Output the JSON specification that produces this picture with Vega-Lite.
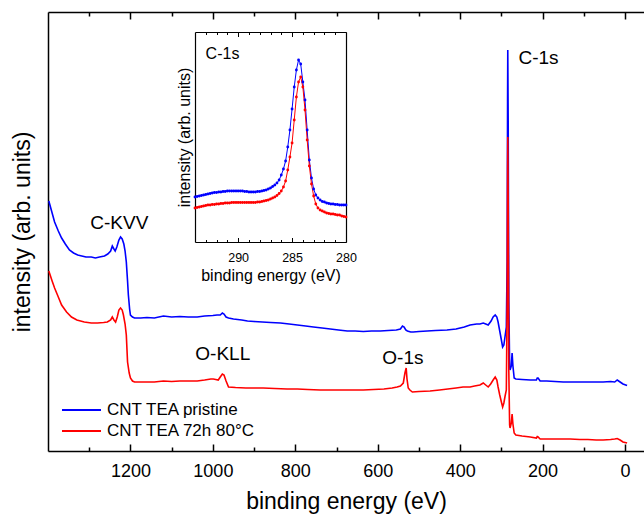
{
  "$schema": "https://vega.github.io/schema/vega-lite/v6.json",
  "width": 596,
  "height": 439,
  "autosize": "none",
  "padding": {"left": 48, "top": 12, "right": 0, "bottom": 64},
  "datasets": {
    "main": [
      {"series":"CNT TEA pristine","eV":1398,"I":250},{"series":"CNT TEA pristine","eV":1390,"I":238},{"series":"CNT TEA pristine","eV":1384,"I":229},{"series":"CNT TEA pristine","eV":1375,"I":220},{"series":"CNT TEA pristine","eV":1367,"I":213},{"series":"CNT TEA pristine","eV":1358,"I":207},{"series":"CNT TEA pristine","eV":1348,"I":201},{"series":"CNT TEA pristine","eV":1338,"I":198},{"series":"CNT TEA pristine","eV":1328,"I":196},{"series":"CNT TEA pristine","eV":1318,"I":195},{"series":"CNT TEA pristine","eV":1308,"I":194},{"series":"CNT TEA pristine","eV":1295,"I":194},{"series":"CNT TEA pristine","eV":1285,"I":193},{"series":"CNT TEA pristine","eV":1275,"I":194},{"series":"CNT TEA pristine","eV":1263,"I":195},{"series":"CNT TEA pristine","eV":1255,"I":197},{"series":"CNT TEA pristine","eV":1248,"I":200},{"series":"CNT TEA pristine","eV":1244,"I":205},{"series":"CNT TEA pristine","eV":1240,"I":202},{"series":"CNT TEA pristine","eV":1237,"I":200},{"series":"CNT TEA pristine","eV":1233,"I":204},{"series":"CNT TEA pristine","eV":1228,"I":211},{"series":"CNT TEA pristine","eV":1224,"I":214},{"series":"CNT TEA pristine","eV":1220,"I":212},{"series":"CNT TEA pristine","eV":1216,"I":207},{"series":"CNT TEA pristine","eV":1213,"I":200},{"series":"CNT TEA pristine","eV":1210,"I":189},{"series":"CNT TEA pristine","eV":1207,"I":170},{"series":"CNT TEA pristine","eV":1205,"I":156},{"series":"CNT TEA pristine","eV":1202,"I":142},{"series":"CNT TEA pristine","eV":1200,"I":136},{"series":"CNT TEA pristine","eV":1195,"I":134},{"series":"CNT TEA pristine","eV":1190,"I":133},{"series":"CNT TEA pristine","eV":1175,"I":133},{"series":"CNT TEA pristine","eV":1160,"I":133.5},{"series":"CNT TEA pristine","eV":1142,"I":133},{"series":"CNT TEA pristine","eV":1120,"I":135},{"series":"CNT TEA pristine","eV":1100,"I":134},{"series":"CNT TEA pristine","eV":1080,"I":134.5},{"series":"CNT TEA pristine","eV":1060,"I":134},{"series":"CNT TEA pristine","eV":1038,"I":134},{"series":"CNT TEA pristine","eV":1020,"I":135},{"series":"CNT TEA pristine","eV":1000,"I":135.5},{"series":"CNT TEA pristine","eV":990,"I":136},{"series":"CNT TEA pristine","eV":982,"I":136},{"series":"CNT TEA pristine","eV":977,"I":138},{"series":"CNT TEA pristine","eV":973,"I":137},{"series":"CNT TEA pristine","eV":968,"I":134},{"series":"CNT TEA pristine","eV":962,"I":133},{"series":"CNT TEA pristine","eV":950,"I":132},{"series":"CNT TEA pristine","eV":930,"I":131},{"series":"CNT TEA pristine","eV":916,"I":130},{"series":"CNT TEA pristine","eV":900,"I":129.5},{"series":"CNT TEA pristine","eV":880,"I":129},{"series":"CNT TEA pristine","eV":860,"I":128.5},{"series":"CNT TEA pristine","eV":836,"I":128},{"series":"CNT TEA pristine","eV":815,"I":127},{"series":"CNT TEA pristine","eV":795,"I":126},{"series":"CNT TEA pristine","eV":775,"I":125},{"series":"CNT TEA pristine","eV":756,"I":124},{"series":"CNT TEA pristine","eV":735,"I":123},{"series":"CNT TEA pristine","eV":715,"I":122},{"series":"CNT TEA pristine","eV":695,"I":121},{"series":"CNT TEA pristine","eV":674,"I":120},{"series":"CNT TEA pristine","eV":655,"I":120},{"series":"CNT TEA pristine","eV":635,"I":119.5},{"series":"CNT TEA pristine","eV":615,"I":120},{"series":"CNT TEA pristine","eV":594,"I":120},{"series":"CNT TEA pristine","eV":575,"I":120.5},{"series":"CNT TEA pristine","eV":555,"I":121},{"series":"CNT TEA pristine","eV":545,"I":122},{"series":"CNT TEA pristine","eV":540,"I":125},{"series":"CNT TEA pristine","eV":536,"I":124},{"series":"CNT TEA pristine","eV":532,"I":121},{"series":"CNT TEA pristine","eV":528,"I":120},{"series":"CNT TEA pristine","eV":520,"I":119},{"series":"CNT TEA pristine","eV":514,"I":119},{"series":"CNT TEA pristine","eV":500,"I":119.5},{"series":"CNT TEA pristine","eV":480,"I":120},{"series":"CNT TEA pristine","eV":460,"I":120.5},{"series":"CNT TEA pristine","eV":432,"I":121},{"series":"CNT TEA pristine","eV":410,"I":122},{"series":"CNT TEA pristine","eV":390,"I":124},{"series":"CNT TEA pristine","eV":376,"I":126},{"series":"CNT TEA pristine","eV":360,"I":127},{"series":"CNT TEA pristine","eV":352,"I":127},{"series":"CNT TEA pristine","eV":344,"I":128},{"series":"CNT TEA pristine","eV":338,"I":127},{"series":"CNT TEA pristine","eV":332,"I":126},{"series":"CNT TEA pristine","eV":325,"I":130},{"series":"CNT TEA pristine","eV":320,"I":134},{"series":"CNT TEA pristine","eV":315,"I":136},{"series":"CNT TEA pristine","eV":311,"I":134},{"series":"CNT TEA pristine","eV":308,"I":129},{"series":"CNT TEA pristine","eV":304,"I":120},{"series":"CNT TEA pristine","eV":300,"I":111},{"series":"CNT TEA pristine","eV":297,"I":104},{"series":"CNT TEA pristine","eV":294,"I":106},{"series":"CNT TEA pristine","eV":291,"I":115},{"series":"CNT TEA pristine","eV":288,"I":124},{"series":"CNT TEA pristine","eV":286,"I":190},{"series":"CNT TEA pristine","eV":285,"I":350},{"series":"CNT TEA pristine","eV":284.5,"I":401},{"series":"CNT TEA pristine","eV":283.5,"I":330},{"series":"CNT TEA pristine","eV":282,"I":150},{"series":"CNT TEA pristine","eV":280,"I":85},{"series":"CNT TEA pristine","eV":279,"I":81},{"series":"CNT TEA pristine","eV":276,"I":85},{"series":"CNT TEA pristine","eV":274,"I":98},{"series":"CNT TEA pristine","eV":272,"I":85},{"series":"CNT TEA pristine","eV":269,"I":73},{"series":"CNT TEA pristine","eV":265,"I":72},{"series":"CNT TEA pristine","eV":250,"I":71.5},{"series":"CNT TEA pristine","eV":230,"I":71},{"series":"CNT TEA pristine","eV":215,"I":71},{"series":"CNT TEA pristine","eV":213,"I":73},{"series":"CNT TEA pristine","eV":211,"I":73},{"series":"CNT TEA pristine","eV":206,"I":70},{"series":"CNT TEA pristine","eV":190,"I":70},{"series":"CNT TEA pristine","eV":170,"I":69.5},{"series":"CNT TEA pristine","eV":150,"I":69},{"series":"CNT TEA pristine","eV":133,"I":69},{"series":"CNT TEA pristine","eV":110,"I":69},{"series":"CNT TEA pristine","eV":90,"I":69},{"series":"CNT TEA pristine","eV":70,"I":69},{"series":"CNT TEA pristine","eV":53,"I":69},{"series":"CNT TEA pristine","eV":35,"I":69.5},{"series":"CNT TEA pristine","eV":25,"I":69},{"series":"CNT TEA pristine","eV":19,"I":71},{"series":"CNT TEA pristine","eV":12,"I":69},{"series":"CNT TEA pristine","eV":5,"I":67},{"series":"CNT TEA pristine","eV":-5,"I":65.5},
      {"series":"CNT TEA 72h 80°C","eV":1398,"I":180},{"series":"CNT TEA 72h 80°C","eV":1390,"I":170},{"series":"CNT TEA 72h 80°C","eV":1384,"I":163},{"series":"CNT TEA 72h 80°C","eV":1375,"I":154},{"series":"CNT TEA 72h 80°C","eV":1367,"I":146},{"series":"CNT TEA 72h 80°C","eV":1355,"I":139},{"series":"CNT TEA 72h 80°C","eV":1343,"I":134},{"series":"CNT TEA 72h 80°C","eV":1330,"I":131},{"series":"CNT TEA 72h 80°C","eV":1312,"I":129},{"series":"CNT TEA 72h 80°C","eV":1295,"I":128},{"series":"CNT TEA 72h 80°C","eV":1280,"I":128},{"series":"CNT TEA 72h 80°C","eV":1265,"I":128.5},{"series":"CNT TEA 72h 80°C","eV":1256,"I":129},{"series":"CNT TEA 72h 80°C","eV":1248,"I":131},{"series":"CNT TEA 72h 80°C","eV":1244,"I":134},{"series":"CNT TEA 72h 80°C","eV":1240,"I":131},{"series":"CNT TEA 72h 80°C","eV":1236,"I":129},{"series":"CNT TEA 72h 80°C","eV":1232,"I":134},{"series":"CNT TEA 72h 80°C","eV":1228,"I":141},{"series":"CNT TEA 72h 80°C","eV":1224,"I":143},{"series":"CNT TEA 72h 80°C","eV":1220,"I":141},{"series":"CNT TEA 72h 80°C","eV":1217,"I":136},{"series":"CNT TEA 72h 80°C","eV":1213,"I":127},{"series":"CNT TEA 72h 80°C","eV":1210,"I":116},{"series":"CNT TEA 72h 80°C","eV":1207,"I":89},{"series":"CNT TEA 72h 80°C","eV":1203,"I":78},{"series":"CNT TEA 72h 80°C","eV":1200,"I":73},{"series":"CNT TEA 72h 80°C","eV":1195,"I":70},{"series":"CNT TEA 72h 80°C","eV":1190,"I":69},{"series":"CNT TEA 72h 80°C","eV":1170,"I":69},{"series":"CNT TEA 72h 80°C","eV":1142,"I":69},{"series":"CNT TEA 72h 80°C","eV":1120,"I":70},{"series":"CNT TEA 72h 80°C","eV":1100,"I":69.5},{"series":"CNT TEA 72h 80°C","eV":1080,"I":70},{"series":"CNT TEA 72h 80°C","eV":1060,"I":70},{"series":"CNT TEA 72h 80°C","eV":1038,"I":70},{"series":"CNT TEA 72h 80°C","eV":1020,"I":71},{"series":"CNT TEA 72h 80°C","eV":1005,"I":72},{"series":"CNT TEA 72h 80°C","eV":999,"I":72},{"series":"CNT TEA 72h 80°C","eV":993,"I":71.5},{"series":"CNT TEA 72h 80°C","eV":987,"I":71},{"series":"CNT TEA 72h 80°C","eV":982,"I":74},{"series":"CNT TEA 72h 80°C","eV":977,"I":77},{"series":"CNT TEA 72h 80°C","eV":973,"I":76},{"series":"CNT TEA 72h 80°C","eV":968,"I":70},{"series":"CNT TEA 72h 80°C","eV":962,"I":64},{"series":"CNT TEA 72h 80°C","eV":945,"I":63.5},{"series":"CNT TEA 72h 80°C","eV":920,"I":63},{"series":"CNT TEA 72h 80°C","eV":900,"I":63},{"series":"CNT TEA 72h 80°C","eV":878,"I":63},{"series":"CNT TEA 72h 80°C","eV":850,"I":62.5},{"series":"CNT TEA 72h 80°C","eV":820,"I":62},{"series":"CNT TEA 72h 80°C","eV":795,"I":62},{"series":"CNT TEA 72h 80°C","eV":770,"I":61.5},{"series":"CNT TEA 72h 80°C","eV":740,"I":61},{"series":"CNT TEA 72h 80°C","eV":715,"I":61},{"series":"CNT TEA 72h 80°C","eV":690,"I":61},{"series":"CNT TEA 72h 80°C","eV":660,"I":61},{"series":"CNT TEA 72h 80°C","eV":635,"I":61},{"series":"CNT TEA 72h 80°C","eV":610,"I":61.5},{"series":"CNT TEA 72h 80°C","eV":585,"I":62},{"series":"CNT TEA 72h 80°C","eV":565,"I":63},{"series":"CNT TEA 72h 80°C","eV":553,"I":64},{"series":"CNT TEA 72h 80°C","eV":545,"I":65},{"series":"CNT TEA 72h 80°C","eV":538,"I":68},{"series":"CNT TEA 72h 80°C","eV":534,"I":78},{"series":"CNT TEA 72h 80°C","eV":531,"I":83},{"series":"CNT TEA 72h 80°C","eV":529,"I":72},{"series":"CNT TEA 72h 80°C","eV":526,"I":63},{"series":"CNT TEA 72h 80°C","eV":522,"I":61},{"series":"CNT TEA 72h 80°C","eV":516,"I":59},{"series":"CNT TEA 72h 80°C","eV":500,"I":59.5},{"series":"CNT TEA 72h 80°C","eV":473,"I":60},{"series":"CNT TEA 72h 80°C","eV":450,"I":61},{"series":"CNT TEA 72h 80°C","eV":430,"I":62},{"series":"CNT TEA 72h 80°C","eV":410,"I":63},{"series":"CNT TEA 72h 80°C","eV":393,"I":64},{"series":"CNT TEA 72h 80°C","eV":376,"I":64},{"series":"CNT TEA 72h 80°C","eV":365,"I":65},{"series":"CNT TEA 72h 80°C","eV":352,"I":66},{"series":"CNT TEA 72h 80°C","eV":344,"I":68},{"series":"CNT TEA 72h 80°C","eV":338,"I":66},{"series":"CNT TEA 72h 80°C","eV":332,"I":64},{"series":"CNT TEA 72h 80°C","eV":326,"I":67},{"series":"CNT TEA 72h 80°C","eV":320,"I":71},{"series":"CNT TEA 72h 80°C","eV":315,"I":74},{"series":"CNT TEA 72h 80°C","eV":311,"I":71},{"series":"CNT TEA 72h 80°C","eV":308,"I":64},{"series":"CNT TEA 72h 80°C","eV":304,"I":56},{"series":"CNT TEA 72h 80°C","eV":300,"I":49},{"series":"CNT TEA 72h 80°C","eV":297,"I":44},{"series":"CNT TEA 72h 80°C","eV":294,"I":48},{"series":"CNT TEA 72h 80°C","eV":291,"I":55},{"series":"CNT TEA 72h 80°C","eV":288,"I":61},{"series":"CNT TEA 72h 80°C","eV":286,"I":150},{"series":"CNT TEA 72h 80°C","eV":285,"I":280},{"series":"CNT TEA 72h 80°C","eV":284.5,"I":314},{"series":"CNT TEA 72h 80°C","eV":283.5,"I":250},{"series":"CNT TEA 72h 80°C","eV":282,"I":80},{"series":"CNT TEA 72h 80°C","eV":280,"I":26},{"series":"CNT TEA 72h 80°C","eV":279,"I":23},{"series":"CNT TEA 72h 80°C","eV":276,"I":28},{"series":"CNT TEA 72h 80°C","eV":274,"I":37},{"series":"CNT TEA 72h 80°C","eV":272,"I":27},{"series":"CNT TEA 72h 80°C","eV":269,"I":18},{"series":"CNT TEA 72h 80°C","eV":265,"I":16},{"series":"CNT TEA 72h 80°C","eV":250,"I":15},{"series":"CNT TEA 72h 80°C","eV":230,"I":14},{"series":"CNT TEA 72h 80°C","eV":215,"I":13},{"series":"CNT TEA 72h 80°C","eV":213,"I":14.5},{"series":"CNT TEA 72h 80°C","eV":211,"I":14},{"series":"CNT TEA 72h 80°C","eV":206,"I":12},{"series":"CNT TEA 72h 80°C","eV":190,"I":12},{"series":"CNT TEA 72h 80°C","eV":170,"I":12},{"series":"CNT TEA 72h 80°C","eV":150,"I":12},{"series":"CNT TEA 72h 80°C","eV":133,"I":12},{"series":"CNT TEA 72h 80°C","eV":110,"I":11.5},{"series":"CNT TEA 72h 80°C","eV":90,"I":11.5},{"series":"CNT TEA 72h 80°C","eV":70,"I":11},{"series":"CNT TEA 72h 80°C","eV":53,"I":11},{"series":"CNT TEA 72h 80°C","eV":35,"I":11.5},{"series":"CNT TEA 72h 80°C","eV":25,"I":12},{"series":"CNT TEA 72h 80°C","eV":19,"I":12.5},{"series":"CNT TEA 72h 80°C","eV":12,"I":11},{"series":"CNT TEA 72h 80°C","eV":5,"I":9},{"series":"CNT TEA 72h 80°C","eV":-5,"I":8}
    ],
    "inset": [
      {"series":"CNT TEA pristine","eV":294.0,"I":45},{"series":"CNT TEA pristine","eV":293.8,"I":45.5},{"series":"CNT TEA pristine","eV":293.6,"I":46},{"series":"CNT TEA pristine","eV":293.4,"I":46.5},{"series":"CNT TEA pristine","eV":293.2,"I":47},{"series":"CNT TEA pristine","eV":293.0,"I":47.5},{"series":"CNT TEA pristine","eV":292.8,"I":48},{"series":"CNT TEA pristine","eV":292.6,"I":48.5},{"series":"CNT TEA pristine","eV":292.4,"I":49},{"series":"CNT TEA pristine","eV":292.2,"I":49.5},{"series":"CNT TEA pristine","eV":292.0,"I":49.5},{"series":"CNT TEA pristine","eV":291.8,"I":50},{"series":"CNT TEA pristine","eV":291.6,"I":50},{"series":"CNT TEA pristine","eV":291.4,"I":50.5},{"series":"CNT TEA pristine","eV":291.2,"I":50.5},{"series":"CNT TEA pristine","eV":291.0,"I":51},{"series":"CNT TEA pristine","eV":290.8,"I":51},{"series":"CNT TEA pristine","eV":290.6,"I":51},{"series":"CNT TEA pristine","eV":290.4,"I":51},{"series":"CNT TEA pristine","eV":290.2,"I":51},{"series":"CNT TEA pristine","eV":290.0,"I":51},{"series":"CNT TEA pristine","eV":289.8,"I":51},{"series":"CNT TEA pristine","eV":289.6,"I":51},{"series":"CNT TEA pristine","eV":289.4,"I":50.5},{"series":"CNT TEA pristine","eV":289.2,"I":50.5},{"series":"CNT TEA pristine","eV":289.0,"I":50},{"series":"CNT TEA pristine","eV":288.8,"I":50},{"series":"CNT TEA pristine","eV":288.6,"I":50},{"series":"CNT TEA pristine","eV":288.4,"I":50},{"series":"CNT TEA pristine","eV":288.2,"I":50.5},{"series":"CNT TEA pristine","eV":288.0,"I":50.5},{"series":"CNT TEA pristine","eV":287.8,"I":51},{"series":"CNT TEA pristine","eV":287.6,"I":51.5},{"series":"CNT TEA pristine","eV":287.4,"I":52},{"series":"CNT TEA pristine","eV":287.2,"I":53},{"series":"CNT TEA pristine","eV":287.0,"I":54},{"series":"CNT TEA pristine","eV":286.8,"I":55.5},{"series":"CNT TEA pristine","eV":286.6,"I":57},{"series":"CNT TEA pristine","eV":286.4,"I":59},{"series":"CNT TEA pristine","eV":286.2,"I":62},{"series":"CNT TEA pristine","eV":286.0,"I":67},{"series":"CNT TEA pristine","eV":285.8,"I":73},{"series":"CNT TEA pristine","eV":285.6,"I":81},{"series":"CNT TEA pristine","eV":285.4,"I":95},{"series":"CNT TEA pristine","eV":285.2,"I":112},{"series":"CNT TEA pristine","eV":285.0,"I":133},{"series":"CNT TEA pristine","eV":284.8,"I":155},{"series":"CNT TEA pristine","eV":284.6,"I":172},{"series":"CNT TEA pristine","eV":284.4,"I":182},{"series":"CNT TEA pristine","eV":284.2,"I":178},{"series":"CNT TEA pristine","eV":284.0,"I":160},{"series":"CNT TEA pristine","eV":283.8,"I":142},{"series":"CNT TEA pristine","eV":283.6,"I":112},{"series":"CNT TEA pristine","eV":283.4,"I":82},{"series":"CNT TEA pristine","eV":283.2,"I":64},{"series":"CNT TEA pristine","eV":283.0,"I":53},{"series":"CNT TEA pristine","eV":282.8,"I":47},{"series":"CNT TEA pristine","eV":282.6,"I":44},{"series":"CNT TEA pristine","eV":282.4,"I":42},{"series":"CNT TEA pristine","eV":282.2,"I":40.5},{"series":"CNT TEA pristine","eV":282.0,"I":40},{"series":"CNT TEA pristine","eV":281.8,"I":39},{"series":"CNT TEA pristine","eV":281.6,"I":38.5},{"series":"CNT TEA pristine","eV":281.4,"I":38},{"series":"CNT TEA pristine","eV":281.2,"I":38},{"series":"CNT TEA pristine","eV":281.0,"I":37.5},{"series":"CNT TEA pristine","eV":280.8,"I":37.5},{"series":"CNT TEA pristine","eV":280.6,"I":37},{"series":"CNT TEA pristine","eV":280.4,"I":37},{"series":"CNT TEA pristine","eV":280.2,"I":37},{"series":"CNT TEA pristine","eV":280.0,"I":37},
      {"series":"CNT TEA 72h 80°C","eV":294.0,"I":34},{"series":"CNT TEA 72h 80°C","eV":293.8,"I":34.5},{"series":"CNT TEA 72h 80°C","eV":293.6,"I":35},{"series":"CNT TEA 72h 80°C","eV":293.4,"I":35.5},{"series":"CNT TEA 72h 80°C","eV":293.2,"I":36},{"series":"CNT TEA 72h 80°C","eV":293.0,"I":36.5},{"series":"CNT TEA 72h 80°C","eV":292.8,"I":37},{"series":"CNT TEA 72h 80°C","eV":292.6,"I":37},{"series":"CNT TEA 72h 80°C","eV":292.4,"I":37.5},{"series":"CNT TEA 72h 80°C","eV":292.2,"I":37.5},{"series":"CNT TEA 72h 80°C","eV":292.0,"I":38},{"series":"CNT TEA 72h 80°C","eV":291.8,"I":38},{"series":"CNT TEA 72h 80°C","eV":291.6,"I":38.5},{"series":"CNT TEA 72h 80°C","eV":291.4,"I":38.5},{"series":"CNT TEA 72h 80°C","eV":291.2,"I":39},{"series":"CNT TEA 72h 80°C","eV":291.0,"I":39},{"series":"CNT TEA 72h 80°C","eV":290.8,"I":39},{"series":"CNT TEA 72h 80°C","eV":290.6,"I":39.5},{"series":"CNT TEA 72h 80°C","eV":290.4,"I":39.5},{"series":"CNT TEA 72h 80°C","eV":290.2,"I":39.5},{"series":"CNT TEA 72h 80°C","eV":290.0,"I":39.5},{"series":"CNT TEA 72h 80°C","eV":289.8,"I":39.5},{"series":"CNT TEA 72h 80°C","eV":289.6,"I":39.5},{"series":"CNT TEA 72h 80°C","eV":289.4,"I":39.5},{"series":"CNT TEA 72h 80°C","eV":289.2,"I":39.5},{"series":"CNT TEA 72h 80°C","eV":289.0,"I":39.5},{"series":"CNT TEA 72h 80°C","eV":288.8,"I":39.5},{"series":"CNT TEA 72h 80°C","eV":288.6,"I":39.5},{"series":"CNT TEA 72h 80°C","eV":288.4,"I":39.5},{"series":"CNT TEA 72h 80°C","eV":288.2,"I":40},{"series":"CNT TEA 72h 80°C","eV":288.0,"I":40},{"series":"CNT TEA 72h 80°C","eV":287.8,"I":40.5},{"series":"CNT TEA 72h 80°C","eV":287.6,"I":41},{"series":"CNT TEA 72h 80°C","eV":287.4,"I":41.5},{"series":"CNT TEA 72h 80°C","eV":287.2,"I":42},{"series":"CNT TEA 72h 80°C","eV":287.0,"I":43},{"series":"CNT TEA 72h 80°C","eV":286.8,"I":44},{"series":"CNT TEA 72h 80°C","eV":286.6,"I":45},{"series":"CNT TEA 72h 80°C","eV":286.4,"I":46.5},{"series":"CNT TEA 72h 80°C","eV":286.2,"I":48.5},{"series":"CNT TEA 72h 80°C","eV":286.0,"I":51},{"series":"CNT TEA 72h 80°C","eV":285.8,"I":55},{"series":"CNT TEA 72h 80°C","eV":285.6,"I":61},{"series":"CNT TEA 72h 80°C","eV":285.4,"I":72},{"series":"CNT TEA 72h 80°C","eV":285.2,"I":85},{"series":"CNT TEA 72h 80°C","eV":285.0,"I":99},{"series":"CNT TEA 72h 80°C","eV":284.8,"I":122},{"series":"CNT TEA 72h 80°C","eV":284.6,"I":145},{"series":"CNT TEA 72h 80°C","eV":284.4,"I":160},{"series":"CNT TEA 72h 80°C","eV":284.2,"I":165},{"series":"CNT TEA 72h 80°C","eV":284.0,"I":155},{"series":"CNT TEA 72h 80°C","eV":283.8,"I":132},{"series":"CNT TEA 72h 80°C","eV":283.6,"I":102},{"series":"CNT TEA 72h 80°C","eV":283.4,"I":76},{"series":"CNT TEA 72h 80°C","eV":283.2,"I":58},{"series":"CNT TEA 72h 80°C","eV":283.0,"I":46},{"series":"CNT TEA 72h 80°C","eV":282.8,"I":38},{"series":"CNT TEA 72h 80°C","eV":282.6,"I":34},{"series":"CNT TEA 72h 80°C","eV":282.4,"I":32},{"series":"CNT TEA 72h 80°C","eV":282.2,"I":31},{"series":"CNT TEA 72h 80°C","eV":282.0,"I":30},{"series":"CNT TEA 72h 80°C","eV":281.8,"I":29},{"series":"CNT TEA 72h 80°C","eV":281.6,"I":28.5},{"series":"CNT TEA 72h 80°C","eV":281.4,"I":28},{"series":"CNT TEA 72h 80°C","eV":281.2,"I":28},{"series":"CNT TEA 72h 80°C","eV":281.0,"I":27.5},{"series":"CNT TEA 72h 80°C","eV":280.8,"I":27},{"series":"CNT TEA 72h 80°C","eV":280.6,"I":27},{"series":"CNT TEA 72h 80°C","eV":280.4,"I":26},{"series":"CNT TEA 72h 80°C","eV":280.2,"I":25.5},{"series":"CNT TEA 72h 80°C","eV":280.0,"I":25}
    ],
    "labels": [
      {"label":"C-KVV","eV":1227,"I":228},
      {"label":"O-KLL","eV":976,"I":97},
      {"label":"O-1s","eV":539,"I":93.5},
      {"label":"C-1s","eV":210,"I":393}
    ],
    "insetLabels": [
      {"label":"C-1s","eV":291.45,"I":188.5}
    ]
  },
  "layer": [
    {
      "data": {"name": "main"},
      "mark": {"type": "line", "strokeWidth": 1.6, "interpolate": "linear"},
      "encoding": {
        "x": {"field": "eV", "type": "quantitative",
          "scale": {"domain": [1400, -46], "nice": false, "zero": false},
          "axis": {"orient": "bottom", "values": [1200, 1000, 800, 600, 400, 200, 0], "format": "d", "tickSize": -7, "tickWidth": 1.5, "labelPadding": 18, "labelFontSize": 18, "labelFlush": false, "labelOverlap": false, "domainWidth": 1.5, "title": "binding energy (eV)", "titleFontSize": 23, "titlePadding": 10}},
        "y": {"field": "I", "type": "quantitative",
          "scale": {"domain": [0, 439], "nice": false, "zero": false},
          "axis": {"orient": "left", "ticks": false, "labels": false, "domainWidth": 1.5, "title": "intensity (arb. units)", "titleFontSize": 23, "titlePadding": 14}},
        "color": {"field": "series", "type": "nominal",
          "scale": {"domain": ["CNT TEA pristine", "CNT TEA 72h 80°C"], "range": ["#0000ff", "#ff0000"]},
          "legend": {"orient": "none", "legendX": 13, "legendY": 387.5, "title": null, "symbolType": "stroke", "symbolSize": 1521, "symbolStrokeWidth": 2, "clipHeight": 21, "labelFontSize": 17, "labelOffset": 5, "padding": 0, "rowPadding": 0, "labelLimit": 300, "labelColor": "#000"}}
      }
    },
    {
      "data": {"values": [{"v": 0}]},
      "mark": {"type": "point", "opacity": 0},
      "encoding": {
        "x": {"field": "v", "type": "quantitative",
          "scale": {"domain": [1400, -46], "nice": false, "zero": false},
          "axis": {"orient": "bottom", "values": [1300, 1100, 900, 700, 500, 300, 100], "tickSize": -4, "tickWidth": 1.5, "labels": false, "domain": false, "title": null}}
      }
    },
    {
      "data": {"values": [{"v": 0}]},
      "mark": {"type": "point", "opacity": 0},
      "encoding": {
        "x": {"field": "v", "type": "quantitative",
          "scale": {"domain": [1400, -46], "nice": false, "zero": false},
          "axis": {"orient": "top", "values": [1200, 1000, 800, 600, 400, 200, 0], "tickSize": -7, "tickWidth": 1.5, "labels": false, "domainWidth": 1.5, "title": null}}
      }
    },
    {
      "data": {"values": [{"v": 0}]},
      "mark": {"type": "point", "opacity": 0},
      "encoding": {
        "x": {"field": "v", "type": "quantitative",
          "scale": {"domain": [1400, -46], "nice": false, "zero": false},
          "axis": {"orient": "top", "values": [1300, 1100, 900, 700, 500, 300, 100], "tickSize": -4, "tickWidth": 1.5, "labels": false, "domain": false, "title": null}}
      }
    },
    {
      "data": {"name": "labels"},
      "mark": {"type": "text", "fontSize": 19, "align": "center", "baseline": "middle", "color": "#000"},
      "encoding": {
        "x": {"field": "eV", "type": "quantitative", "scale": {"domain": [1400, -46], "nice": false, "zero": false}, "axis": null},
        "y": {"field": "I", "type": "quantitative", "scale": {"domain": [0, 439], "nice": false, "zero": false}, "axis": null},
        "text": {"field": "label"}
      }
    },
    {
      "data": {"name": "inset"},
      "mark": {"type": "line", "strokeWidth": 1, "point": {"filled": true, "size": 8}},
      "encoding": {
        "x": {"field": "eV", "type": "quantitative",
          "scale": {"domain": [294, 280], "range": [147, 298], "nice": false, "zero": false},
          "axis": {"orient": "bottom", "offset": -209, "values": [290, 285, 280], "tickSize": -4.5, "tickWidth": 1, "labelPadding": 13.5, "labelFontSize": 12.5, "labelFlush": false, "labelOverlap": false, "domainWidth": 1.2, "title": "binding energy (eV)", "titleFontSize": 16, "titlePadding": 4}},
        "y": {"field": "I", "type": "quantitative",
          "scale": {"domain": [0, 210], "range": [230, 20], "nice": false, "zero": false},
          "axis": {"orient": "left", "offset": -147, "ticks": false, "labels": false, "domainWidth": 1.2, "title": "intensity (arb. units)", "titleFontSize": 16, "titlePadding": 3}},
        "color": {"field": "series", "type": "nominal",
          "scale": {"domain": ["CNT TEA pristine", "CNT TEA 72h 80°C"], "range": ["#0000ff", "#ff0000"]},
          "legend": null}
      }
    },
    {
      "data": {"values": [{"v": 285}]},
      "mark": {"type": "point", "opacity": 0},
      "encoding": {
        "x": {"field": "v", "type": "quantitative",
          "scale": {"domain": [294, 280], "range": [147, 298], "nice": false, "zero": false},
          "axis": {"orient": "bottom", "offset": -209, "values": [293, 292, 291, 289, 288, 287, 286, 284, 283, 282, 281], "tickSize": -2.5, "tickWidth": 1, "labels": false, "domain": false, "title": null}}
      }
    },
    {
      "data": {"values": [{"v": 285}]},
      "mark": {"type": "point", "opacity": 0},
      "encoding": {
        "x": {"field": "v", "type": "quantitative",
          "scale": {"domain": [294, 280], "range": [147, 298], "nice": false, "zero": false},
          "axis": {"orient": "top", "offset": -20, "values": [290, 285, 280], "tickSize": -4.5, "tickWidth": 1, "labels": false, "domainWidth": 1.2, "title": null}}
      }
    },
    {
      "data": {"values": [{"v": 285}]},
      "mark": {"type": "point", "opacity": 0},
      "encoding": {
        "x": {"field": "v", "type": "quantitative",
          "scale": {"domain": [294, 280], "range": [147, 298], "nice": false, "zero": false},
          "axis": {"orient": "top", "offset": -20, "values": [293, 292, 291, 289, 288, 287, 286, 284, 283, 282, 281], "tickSize": -2.5, "tickWidth": 1, "labels": false, "domain": false, "title": null}}
      }
    },
    {
      "data": {"values": [{"v": 100}]},
      "mark": {"type": "point", "opacity": 0},
      "encoding": {
        "y": {"field": "v", "type": "quantitative",
          "scale": {"domain": [0, 210], "range": [230, 20], "nice": false, "zero": false},
          "axis": {"orient": "right", "offset": -298, "ticks": false, "labels": false, "domainWidth": 1.2, "title": null}}
      }
    },
    {
      "data": {"name": "insetLabels"},
      "mark": {"type": "text", "fontSize": 16, "align": "center", "baseline": "middle", "color": "#000"},
      "encoding": {
        "x": {"field": "eV", "type": "quantitative", "scale": {"domain": [294, 280], "range": [147, 298], "nice": false, "zero": false}, "axis": null},
        "y": {"field": "I", "type": "quantitative", "scale": {"domain": [0, 210], "range": [230, 20], "nice": false, "zero": false}, "axis": null},
        "text": {"field": "label"}
      }
    }
  ],
  "resolve": {
    "scale": {"x": "independent", "y": "independent"},
    "axis": {"x": "independent", "y": "independent"},
    "legend": {"color": "independent"}
  },
  "config": {
    "view": {"stroke": null},
    "font": "Liberation Sans",
    "axis": {"grid": false, "domainColor": "#000", "tickColor": "#000", "labelColor": "#000", "titleColor": "#000", "titleFontWeight": "normal", "labelFont": "Liberation Sans", "titleFont": "Liberation Sans"},
    "legend": {"labelFont": "Liberation Sans"},
    "text": {"font": "Liberation Sans"}
  }
}
